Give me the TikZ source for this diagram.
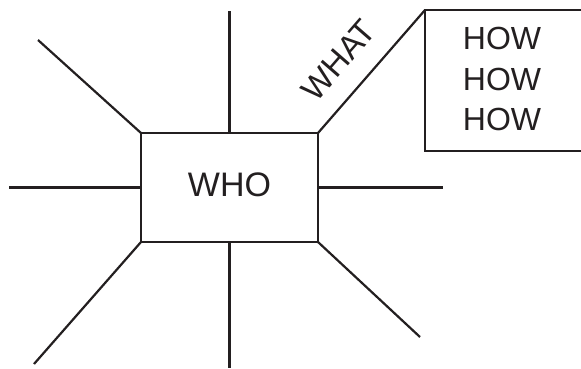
\documentclass[tikz,border=0pt]{standalone}
\usepackage{fontspec}
\setmainfont{Liberation Sans}
\definecolor{ink}{HTML}{231F20}
\begin{document}
\begin{tikzpicture}[x=1pt,y=-1pt,
  spoke/.style={draw=ink,line width=2.2pt},
  whobox/.style={draw=ink,line width=2.2pt,rectangle,outer sep=0pt,
    minimum width=177pt,minimum height=109pt,text depth=6pt,
    text=ink,font=\fontsize{34}{40}\selectfont}]
\useasboundingbox (0,0) rectangle (581,368);
\node[whobox] (who) at (229.5,187.5) {WHO};
\coordinate (top) at (229.5,11);
\coordinate (topleft) at (38,40);
\coordinate (left) at (9,187.5);
\coordinate (botleft) at (34,364);
\coordinate (bot) at (229.5,368);
\coordinate (botright) at (420,337);
\coordinate (right) at (443,187.5);
\coordinate (howtl) at (425,10);
\coordinate (howbl) at (425,151);
\coordinate (howtr) at (581,10);
\coordinate (howbr) at (581,151);
\draw[spoke] (who.north) -- (top);
\draw[spoke] (who.north west) -- (topleft);
\draw[spoke] (who.west) -- (left);
\draw[spoke] (who.south west) -- (botleft);
\draw[spoke] (who.south) -- (bot);
\draw[spoke] (who.south east) -- (botright);
\draw[spoke] (who.east) -- (right);
\draw[spoke] (who.north east) -- (howtl)
  node[pos=0.42,sloped,anchor=base,yshift=21pt,inner sep=0pt,text=ink,
    font=\fontsize{33}{38}\selectfont] (what) {WHAT};
\draw[spoke] (howtr) -- (howtl) -- (howbl) -- (howbr);
\node[align=center,text=ink,inner sep=0pt,
  font=\fontsize{32}{40.5}\selectfont] (how) at (502,79) {HOW\\HOW\\HOW};
\end{tikzpicture}
\end{document}
